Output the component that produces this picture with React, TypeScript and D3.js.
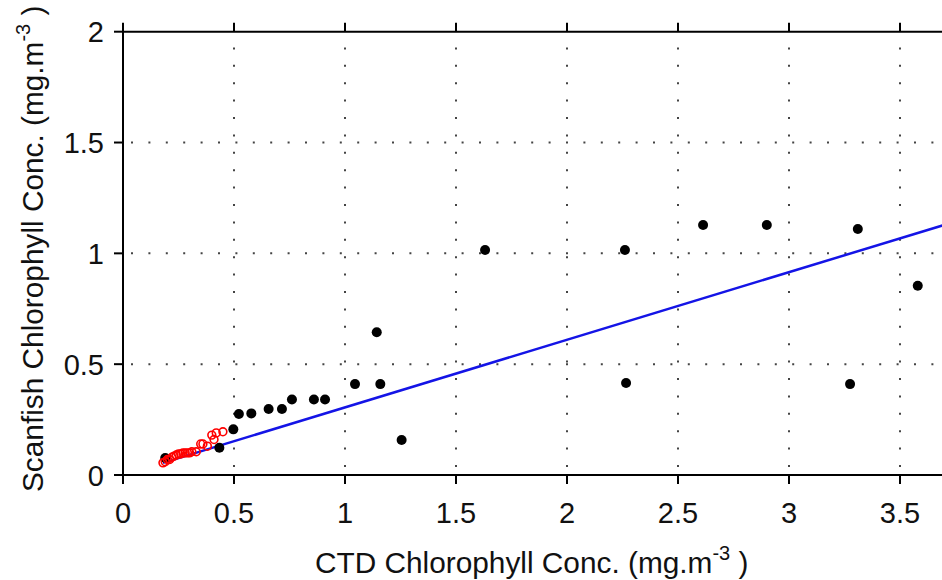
import React from "react";
import * as d3 from "d3";

const blackX = [0.19, 0.434, 0.497, 0.522, 0.578, 0.656, 0.716, 0.761, 0.86, 0.91, 1.045, 1.143, 1.159, 1.255, 1.631, 2.261, 2.266, 2.613, 2.9, 3.275, 3.31, 3.58];
const blackY = [0.077, 0.123, 0.206, 0.275, 0.278, 0.298, 0.298, 0.341, 0.341, 0.341, 0.41, 0.644, 0.41, 0.158, 1.015, 1.015, 0.415, 1.128, 1.128, 0.41, 1.11, 0.854];

const redX = [0.18, 0.19, 0.2, 0.21, 0.22, 0.23, 0.24, 0.25, 0.26, 0.27, 0.28, 0.29, 0.3, 0.31, 0.33, 0.35, 0.36, 0.38, 0.4, 0.41, 0.42, 0.45];
const redY = [0.055, 0.06, 0.07, 0.07, 0.08, 0.085, 0.09, 0.095, 0.095, 0.1, 0.1, 0.1, 0.1, 0.105, 0.105, 0.14, 0.14, 0.13, 0.18, 0.16, 0.19, 0.195];

const fitSlope = 0.305;
const fitIntercept = 0.0;
const fitRange = [0.18, 3.8];

const xTicks = [0, 0.5, 1, 1.5, 2, 2.5, 3, 3.5];
const yTicks = [0, 0.5, 1, 1.5, 2];
const xGrid = [0.5, 1, 1.5, 2, 2.5, 3, 3.5];
const yGrid = [0.5, 1, 1.5];

const W = 942;
const H = 580;
const FONT = "'Liberation Sans', Arial, Helvetica, sans-serif";

export default function App() {
  const x = d3.scaleLinear().domain([0, 3.7]).range([123, 944.4]);
  const y = d3.scaleLinear().domain([0, 2]).range([475, 31.7]);
  const x0 = x(0);
  const xEnd = W + 5;
  const line = d3.line<number>().x((d) => x(d)).y((d) => y(fitSlope * d + fitIntercept));

  return (
    <svg
      width={W}
      height={H}
      style={{ position: "absolute", left: 0, top: 0, background: "#fff" }}
      fontFamily={FONT}
    >
      <rect x={0} y={0} width={W} height={H} fill="#fff" />
      {/* grid */}
      {xGrid.map((t) => (
        <line key={"gx" + t} x1={x(t)} x2={x(t)} y1={y(0)} y2={y(2)} stroke="#444" strokeWidth={2} strokeDasharray="2 15.4" strokeDashoffset={-8} />
      ))}
      {yGrid.map((t) => (
        <line key={"gy" + t} x1={x0} x2={xEnd} y1={y(t)} y2={y(t)} stroke="#444" strokeWidth={2} strokeDasharray="2 15.4" strokeDashoffset={-8} />
      ))}
      {/* fit line */}
      <path d={line(fitRange) || ""} fill="none" stroke="#1414e6" strokeWidth={2.5} />
      {/* black points */}
      {blackX.map((v, i) => (
        <circle key={"b" + i} cx={x(v)} cy={y(blackY[i])} r={5} fill="#000" />
      ))}
      {/* red points */}
      {redX.map((v, i) => (
        <circle key={"r" + i} cx={x(v)} cy={y(redY[i])} r={3.9} fill="none" stroke="#f00" strokeWidth={1.6} />
      ))}
      {/* axes */}
      <line x1={x0} x2={xEnd} y1={y(0)} y2={y(0)} stroke="#000" strokeWidth={2} />
      <line x1={x0} x2={xEnd} y1={y(2)} y2={y(2)} stroke="#000" strokeWidth={2} />
      <line x1={x0} x2={x0} y1={y(0)} y2={y(2)} stroke="#000" strokeWidth={2} />
      {xTicks.map((t) => (
        <g key={"xt" + t}>
          <line x1={x(t)} x2={x(t)} y1={y(0)} y2={y(0) + 9} stroke="#000" strokeWidth={2} />
          <line x1={x(t)} x2={x(t)} y1={y(2)} y2={y(2) - 9} stroke="#000" strokeWidth={2} />
          <text x={x(t)} y={523} fontSize={29} textAnchor="middle" fill="#111">
            {d3.format("~g")(t)}
          </text>
        </g>
      ))}
      {yTicks.map((t) => (
        <g key={"yt" + t}>
          <line x1={x0} x2={x0 - 9} y1={y(t)} y2={y(t)} stroke="#000" strokeWidth={2} />
          <text x={104} y={y(t) + 10.5} fontSize={29} textAnchor="end" fill="#111">
            {d3.format("~g")(t)}
          </text>
        </g>
      ))}
      {/* axis titles */}
      <text x={315} y={573} fontSize={29.8} fill="#111">
        CTD Chlorophyll Conc. (mg.m
        <tspan dy={-13} fontSize={20}>-3</tspan>
        <tspan dy={13}> )</tspan>
      </text>
      <text transform="translate(43,492) rotate(-90)" fontSize={29.8} fill="#111">
        Scanfish Chlorophyll Conc. (mg.m
        <tspan dy={-13} fontSize={20}>-3</tspan>
        <tspan dy={13}> )</tspan>
      </text>
    </svg>
  );
}
